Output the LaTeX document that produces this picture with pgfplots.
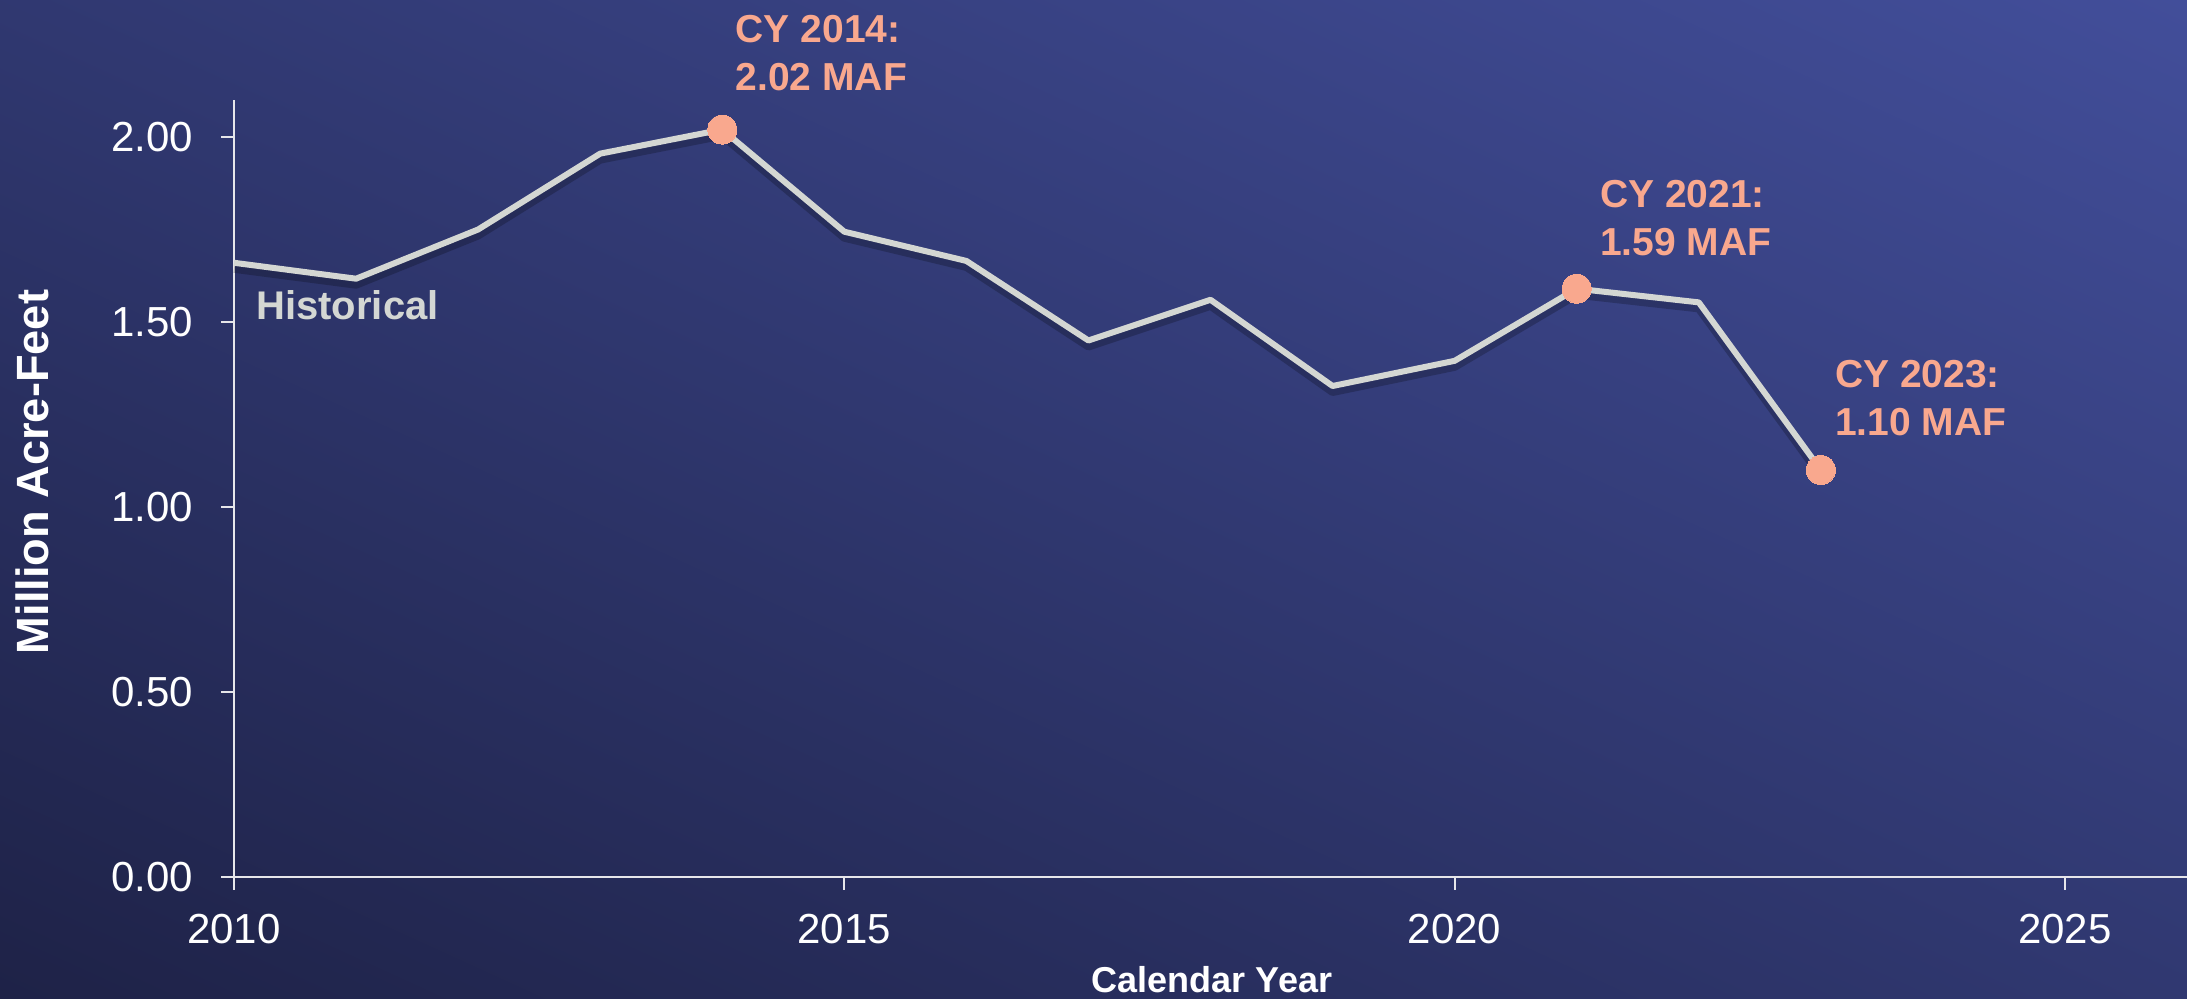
\documentclass[border=0pt]{standalone}
\usepackage{fontspec}
\setmainfont{Liberation Sans}
\usepackage{pgfplots}
\pgfplotsset{compat=1.18}
\definecolor{bgdark}{HTML}{1E2247}
\definecolor{bgmid}{HTML}{2B3265}
\definecolor{bglight}{HTML}{424E9A}
\definecolor{linecol}{HTML}{D4D7D3}
\definecolor{salmon}{HTML}{F9A88E}
\definecolor{axiscol}{HTML}{E6E6EA}
\begin{document}
\begin{tikzpicture}
\path[use as bounding box] (0,0) rectangle (1093.5pt,499.5pt);
\begin{scope}
\clip (0,0) rectangle (1093.5pt,499.5pt);
\begin{scope}[transform canvas={rotate around={-24.55:(546.75pt,249.75pt)}}]
\shade[bottom color=bgdark, middle color=bgmid, top color=bglight]
 (-253.25pt,-204.6pt) rectangle (1346.75pt,704.1pt);
\end{scope}
\end{scope}
\begin{axis}[
  at={(117pt,61pt)}, anchor=south west,
  scale only axis, width=976.5pt, height=388.5pt,
  xmin=2010, xmax=2026, ymin=0, ymax=2.1,
  axis x line*=bottom, axis y line*=left,
  axis line style={draw=axiscol, line width=1pt},
  tick style={draw=axiscol, line width=1pt},
  tick align=outside, major tick length=6.5pt,
  xtick={2010,2015,2020,2025},
  ytick={0,0.5,1,1.5,2},
  /pgf/number format/assume math mode=true,
  xticklabel style={/pgf/number format/1000 sep=},
  yticklabel style={/pgf/number format/fixed, /pgf/number format/fixed zerofill, /pgf/number format/precision=2},
  tick label style={font=\fontsize{21}{25}\selectfont, text=white},
  xticklabel shift=8.5pt,
  yticklabel shift=10.5pt,
  clip=false,
]
\addplot[black, opacity=0.22, line width=4pt, yshift=-3pt, line join=round] coordinates {
(2010,1.66) (2011,1.617) (2012,1.75) (2013,1.955) (2014,2.02) (2015,1.744)
(2016,1.665) (2017,1.45) (2018,1.56) (2019,1.327) (2020,1.395) (2021,1.59)
(2022,1.553) (2023,1.10)};
\addplot[linecol, line width=3pt, line join=round] coordinates {
(2010,1.66) (2011,1.617) (2012,1.75) (2013,1.955) (2014,2.02) (2015,1.744)
(2016,1.665) (2017,1.45) (2018,1.56) (2019,1.327) (2020,1.395) (2021,1.59)
(2022,1.553) (2023,1.10)};
\addplot[salmon, only marks, mark=*, mark size=7.25pt, mark options={fill=salmon, draw=salmon, line width=0pt}] coordinates {
(2014,2.02) (2021,1.59) (2023,1.10)};
\node[anchor=base west, inner sep=0, text=linecol, font=\bfseries\fontsize{20}{24}\selectfont] at (axis cs:2010.18,1.508) {Historical};
\node[anchor=south west, inner sep=0, align=left, text=salmon, font=\bfseries\fontsize{19.5}{24}\selectfont, xshift=6.5pt, yshift=19pt] at (axis cs:2014,2.02) {CY 2014:\\2.02 MAF};
\node[anchor=south west, inner sep=0, align=left, text=salmon, font=\bfseries\fontsize{19.5}{24}\selectfont, xshift=11.5pt, yshift=16pt] at (axis cs:2021,1.59) {CY 2021:\\1.59 MAF};
\node[anchor=south west, inner sep=0, align=left, text=salmon, font=\bfseries\fontsize{19.5}{24}\selectfont, xshift=7pt, yshift=17pt] at (axis cs:2023,1.10) {CY 2023:\\1.10 MAF};
\end{axis}
\node[rotate=90, text=white, font=\bfseries\fontsize{22.6}{26}\selectfont] at (16pt,263.5pt) {Million Acre-Feet};
\node[anchor=base, text=white, font=\bfseries\fontsize{18}{22}\selectfont] at (606pt,3pt) {Calendar Year};
\end{tikzpicture}
\end{document}
